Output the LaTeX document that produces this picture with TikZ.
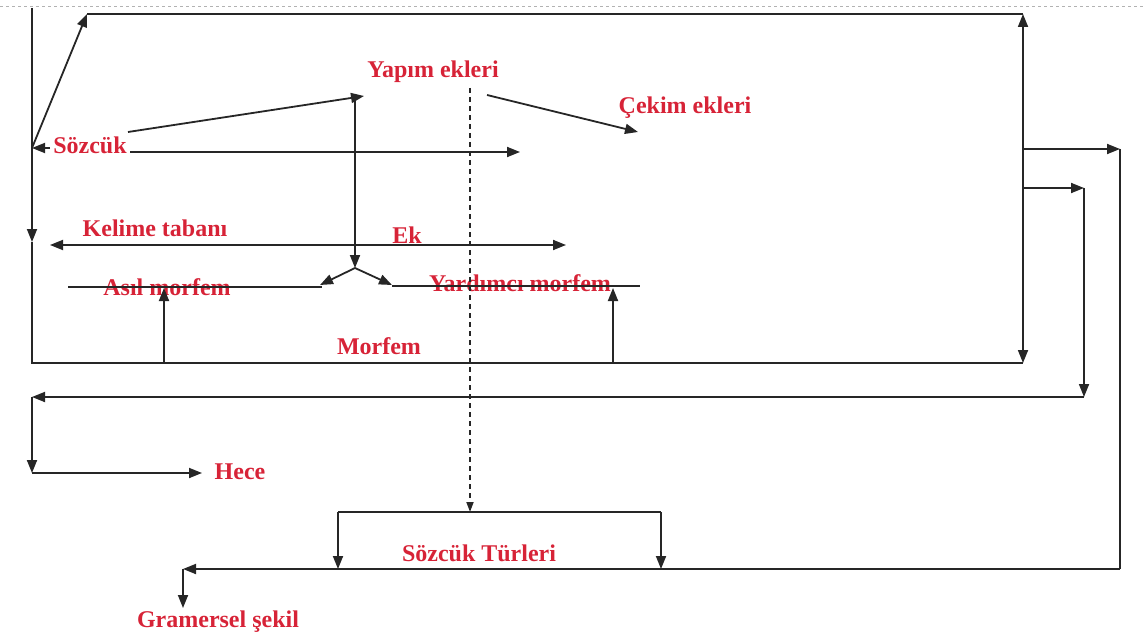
\documentclass[tikz,border=0pt]{standalone}
\usepackage{fontspec}
\setmainfont{Liberation Serif}
\usetikzlibrary{arrows.meta}
\definecolor{lblred}{RGB}{215,35,55}
\tikzset{
 lbl/.style={text=lblred, font=\bfseries\fontsize{24}{26}\selectfont, inner sep=0pt},
 ln/.style={draw=black!85, line width=1.8pt},
 arr/.style={ln, -{Triangle[length=13pt,width=10pt]}},
 arrboth/.style={ln, {Triangle[length=13pt,width=10pt]}-{Triangle[length=13pt,width=10pt]}},
 dash line/.style={ln, dash pattern=on 5pt off 4pt, -{Triangle[length=10pt,width=7pt]}},
}
\begin{document}
\begin{tikzpicture}[x=1pt,y=-1pt]
\useasboundingbox (0,0) rectangle (1145,639);
% page edge artifact
\draw[gray!60, line width=0.8pt, dash pattern=on 3pt off 3pt] (0,6) -- (1145,6);

% labels
\node[lbl] (sozcuk) at (90,145) {Sözcük};
\node[lbl] (yapim) at (433,72) {Yapım ekleri};
\node[lbl] (cekim) at (685,108) {Çekim ekleri};
\node[lbl] (kelime) at (155,228) {Kelime tabanı};
\node[lbl] (ek) at (407,235) {Ek};
\node[lbl] (asil) at (167,287) {Asıl morfem};
\node[lbl] (yardimci) at (520,283) {Yardımcı morfem};
\node[lbl] (morfem) at (379,346) {Morfem};
\node[lbl] (hece) at (240,472) {Hece};
\node[lbl] (turler) at (479,553) {Sözcük Türleri};
\node[lbl] (gramer) at (218,622) {Gramersel şekil};

% coordinates
\coordinate (Ltop) at (32,8);
\coordinate (Lmid) at (32,242);
\coordinate (Lbot) at (32,363);
\coordinate (Rbot) at (1023,363);
\coordinate (Rtop) at (1023,14);
\coordinate (Tl) at (87,14);
\coordinate (Sl) at (32,148);
\coordinate (Sa) at (50,148);
\coordinate (Sr0) at (130,152);
\coordinate (Sr1) at (520,152);
\coordinate (Sd0) at (128,132);
\coordinate (Yp) at (364,96);
\coordinate (Yv) at (355,96);
\coordinate (Fork) at (355,268);
\coordinate (ForkL) at (320,285);
\coordinate (ForkR) at (392,285);
\coordinate (Yc0) at (487,95);
\coordinate (Yc1) at (638,132);
\coordinate (Dt) at (470,88);
\coordinate (Db) at (470,512);
\coordinate (Kl) at (50,245);
\coordinate (Kr) at (566,245);
\coordinate (Al) at (68,287);
\coordinate (Ar) at (322,287);
\coordinate (Yl) at (392,286);
\coordinate (Yr) at (640,286);
\coordinate (Ua0) at (164,363);
\coordinate (Ua1) at (164,288);
\coordinate (Ub0) at (613,363);
\coordinate (Ub1) at (613,288);
\coordinate (R1a) at (1023,149);
\coordinate (R1b) at (1120,149);
\coordinate (R1c) at (1120,569);
\coordinate (R2a) at (1023,188);
\coordinate (R2b) at (1084,188);
\coordinate (R2c) at (1084,397);
\coordinate (H0) at (32,397);
\coordinate (H1) at (32,473);
\coordinate (H2) at (202,473);
\coordinate (Bl) at (183,569);
\coordinate (G1) at (183,608);
\coordinate (T0) at (338,512);
\coordinate (T1) at (661,512);
\coordinate (T0b) at (338,569);
\coordinate (T1b) at (661,569);

% main frame
\draw[arr] (Ltop) -- (Lmid);
\draw[ln] (Lmid) -- (Lbot) -- (Rbot);
\draw[arrboth] (Rtop) -- (Rbot);
\draw[ln] (Tl) -- (Rtop);
\draw[arr] (Sl) -- (Tl);

% Sözcük connectors
\draw[arr] (Sa) -- (Sl);
\draw[arr] (Sr0) -- (Sr1);
\draw[arr] (Sd0) -- (Yp);
\draw[arr] (Yv) -- (Fork);
\draw[arr] (Fork) -- (ForkL);
\draw[arr] (Fork) -- (ForkR);
\draw[arr] (Yc0) -- (Yc1);
\draw[dash line] (Dt) -- (Db);

% Kelime tabanı / Ek
\draw[arrboth] (Kl) -- (Kr);

% morfem lines
\draw[ln] (Al) -- (Ar);
\draw[ln] (Yl) -- (Yr);
\draw[arr] (Ua0) -- (Ua1);
\draw[arr] (Ub0) -- (Ub1);

% right branches
\draw[arr] (R1a) -- (R1b);
\draw[ln] (R1b) -- (R1c);
\draw[arr] (R1c) -- (Bl);
\draw[arr] (Bl) -- (G1);

\draw[arr] (R2a) -- (R2b);
\draw[arr] (R2b) -- (R2c);
\draw[arr] (R2c) -- (H0);
\draw[arr] (H0) -- (H1);
\draw[arr] (H1) -- (H2);

% Sözcük Türleri bracket
\draw[arr] (T0) -- (T0b);
\draw[arr] (T1) -- (T1b);
\draw[ln] (T0) -- (T1);
\end{tikzpicture}
\end{document}
